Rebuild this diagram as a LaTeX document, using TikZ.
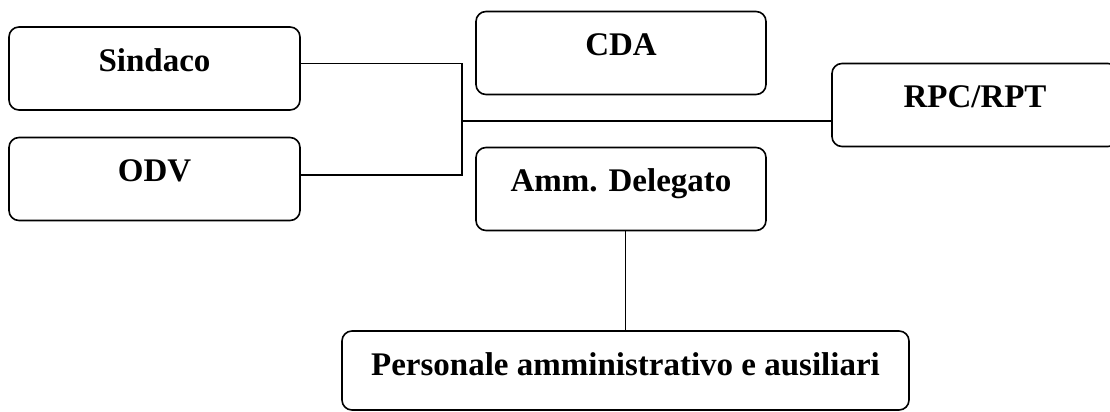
\documentclass[tikz,border=0pt]{standalone}
\usepackage{fontspec}
\setmainfont{Liberation Serif}
\usepackage{tikz}
\usetikzlibrary{calc}

\tikzset{
	orgbox/.style={draw, line width=0.8pt, rounded corners=5pt, inner sep=0pt,
		text height=22pt, text depth=19.5pt, font=\bfseries\fontsize{16.5}{20}\selectfont},
	orgline/.style={line width=0.8pt}
}

\begin{document}
\begin{tikzpicture}[x=0.5pt, y=-0.5pt]
				\useasboundingbox (0,0) rectangle (1110,412);
				% boxes
				\node[orgbox, minimum width=145.5pt] (sindaco) at (154.5,68.5) {Sindaco};
				\node[orgbox, minimum width=145.5pt] (odv) at (154.5,179) {ODV};
				\node[orgbox, minimum width=145pt] (cda) at (621,53) {CDA};
				\node[orgbox, minimum width=143pt] (rpc) at (975,105) {RPC/RPT};
				\node[orgbox, minimum width=145pt] (amm) at (621,189) {Amm. Delegato};
				\node[orgbox, minimum width=283.5pt, text depth=17.5pt] (pers) at (625.5,370.5) {Personale amministrativo e ausiliari};
				
				% connectors
				\coordinate (bus) at (462,121);
				\draw[orgline] ([yshift=2.5pt]sindaco.east) -| (bus) |- ([yshift=2pt]odv.east);
				\draw[orgline] (bus) -- (bus -| rpc.west);
				\draw[orgline] (amm.south -| pers.north) -- (pers.north);
			\end{tikzpicture}
\end{document}
